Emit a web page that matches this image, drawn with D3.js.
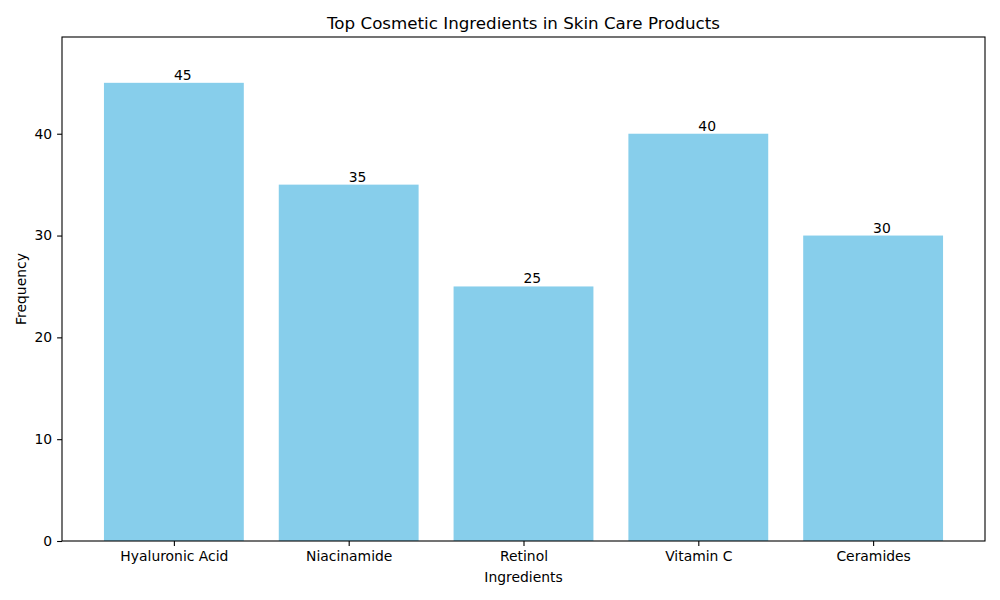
<!DOCTYPE html>
<html>
<head>
<meta charset="utf-8">
<script src="https://cdn.jsdelivr.net/npm/d3@7"></script>
<style>
  body { margin: 0; background: #fff; }
  svg text { font-family: 'DejaVu Sans', sans-serif; fill: #000; }
</style>
</head>
<body>
<svg id="chart" width="1000" height="600"></svg>
<script>
const ingredients = ['Hyaluronic Acid', 'Niacinamide', 'Retinol', 'Vitamin C', 'Ceramides'];
const frequency = [45, 35, 25, 40, 30];
const yTicks = [0, 10, 20, 30, 40];

const svg = d3.select('#chart');
const margin = { top: 37, right: 15, bottom: 59, left: 62 };
const w = 1000, h = 600;
const width = w - margin.left - margin.right;
const height = h - margin.top - margin.bottom;

const barW = 0.8;
const pad = (ingredients.length - 1 + barW) * 0.05;
const xScale = d3.scaleLinear()
  .domain([-barW / 2 - pad, ingredients.length - 1 + barW / 2 + pad])
  .range([margin.left, margin.left + width]);

const yScale = d3.scaleLinear()
  .domain([0, d3.max(frequency) * 1.1])
  .range([margin.top + height, margin.top]);

const main = svg.append('g');

// bars
main.selectAll('rect.bar')
  .data(frequency)
  .enter()
  .append('rect')
    .attr('class', 'bar')
    .attr('x', (d, i) => xScale(i - barW / 2))
    .attr('width', (d, i) => xScale(i + barW / 2) - xScale(i - barW / 2))
    .attr('y', d => yScale(d))
    .attr('height', d => yScale(0) - yScale(d))
    .attr('fill', '#87CEEB');

// value labels (left-aligned at bar centre)
main.selectAll('text.val')
  .data(frequency)
  .enter()
  .append('text')
    .attr('class', 'val')
    .attr('x', (d, i) => xScale(i))
    .attr('y', d => yScale(d) - 3)
    .attr('text-anchor', 'start')
    .style('font-size', '13.9px')
    .text(d => d);

// axes
const xAxis = d3.axisBottom(xScale)
  .tickValues(d3.range(ingredients.length))
  .tickFormat(i => ingredients[i])
  .tickSize(4.9)
  .tickPadding(4.9);
const xAxisSel = main.append('g')
  .attr('transform', `translate(0, ${margin.top + height})`)
  .call(xAxis);

const yAxis = d3.axisLeft(yScale)
  .tickValues(yTicks)
  .tickSize(4.9)
  .tickPadding(4.9);
const yAxisSel = main.append('g')
  .attr('transform', `translate(${margin.left}, 0)`)
  .call(yAxis);

[xAxisSel, yAxisSel].forEach(sel => {
  sel.selectAll('.tick text')
    .style('font-size', '13.9px')
    .style('font-family', "'DejaVu Sans', sans-serif")
    .attr('fill', '#000');
  sel.selectAll('.tick line').attr('stroke', '#000').attr('stroke-width', 1.1);
});
d3.selectAll('.domain').remove();

// frame
main.append('rect')
  .attr('x', margin.left)
  .attr('y', margin.top)
  .attr('width', width)
  .attr('height', height)
  .attr('fill', 'none')
  .attr('stroke', '#000')
  .attr('stroke-width', 1.1);

// title and labels
svg.append('text')
  .attr('x', margin.left + width / 2)
  .attr('y', margin.top - 8.5)
  .attr('text-anchor', 'middle')
  .style('font-size', '16.7px')
  .text('Top Cosmetic Ingredients in Skin Care Products');

svg.append('text')
  .attr('x', margin.left + width / 2)
  .attr('y', 582)
  .attr('text-anchor', 'middle')
  .style('font-size', '13.9px')
  .text('Ingredients');

svg.append('text')
  .attr('transform', `translate(26, ${margin.top + height / 2}) rotate(-90)`)
  .attr('text-anchor', 'middle')
  .style('font-size', '13.9px')
  .text('Frequency');
</script>
</body>
</html>
